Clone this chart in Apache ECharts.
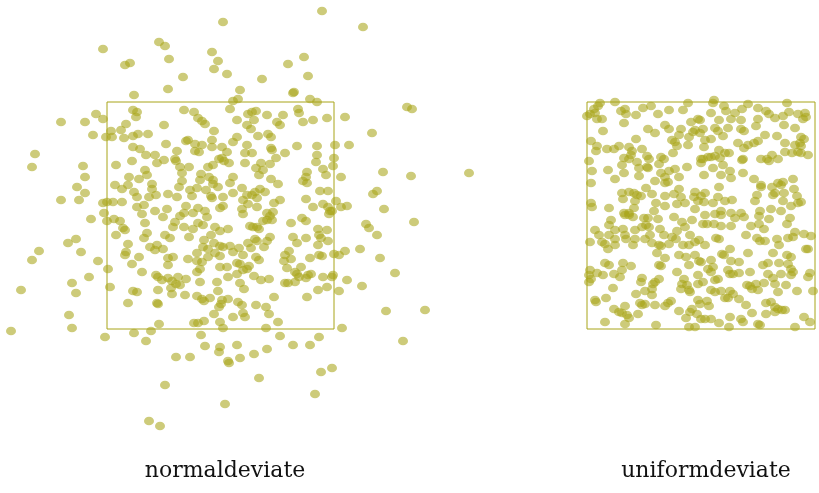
<!DOCTYPE html>
<html>
<head>
<meta charset="utf-8">
<script src="https://cdn.jsdelivr.net/npm/echarts@6/dist/echarts.min.js"></script>
<style>
  html, body { margin: 0; padding: 0; background: #fff; }
  #main { width: 819px; height: 493px; }
</style>
</head>
<body>
<div id="main"></div>
<script>
// panel names
const panelNames = ["normaldeviate", "uniformdeviate"];

// normal deviate sample, box is about -113..113 on both axes
const normalOuter = [
  [-118,167],[-96,151],[-91,153],[-62,174],[-56,170],[-52,157],[-38,139],[-87,121],[-53,127],
  [2,194],[-9,164],[-3,155],[-7,147],[6,142],[19,126],[12,115],[17,117],[41,137],[67,152],
  [83,159],[87,140],[72,123],[73,124],[89,117],[96,114],[101,205],[142,189],
  [-210,-115],[-149,-112],[-116,-121],[-87,-117],[-70,-115],[-75,-125],[-20,-119],[-45,-141],
  [-31,-141],[-16,-130],[-1,-131],[-2,-136],[16,-129],[7,-145],[8,-147],[19,-142],[33,-138],
  [46,-133],[59,-120],[72,-129],[89,-129],[98,-121],[121,-112],[182,-125],[100,-156],[111,-152],
  [38,-162],[-56,-169],[94,-178],[4,-188],[-72,-205],[-61,-210],[45,-112],[2,-112],
  [-125,102],[-118,97],[-160,94],[-136,94],[-128,81],[-115,79],[-186,62],[-189,49],[-138,50],
  [-136,39],[-144,29],[-136,23],[-160,16],[-142,16],[-118,13],[-114,14],[-117,3],[-130,-3],
  [-114,-5],[-145,-23],[-153,-27],[-182,-35],[-189,-44],[-140,-36],[-123,-45],[-113,-53],
  [-132,-61],[-149,-67],[-145,-77],[-200,-74],[-111,-71],[-152,-99],
  [186,109],[191,107],[124,99],[151,83],[114,71],[128,71],[113,58],[112,50],[120,39],[162,44],
  [190,40],[248,43],[156,25],[152,22],[115,15],[120,9],[126,10],[111,5],[163,7],[145,-8],
  [148,-12],[156,-19],[193,-6],[139,-33],[124,-35],[118,-39],[113,-38],[159,-42],[174,-57],
  [112,-59],[126,-64],[141,-70],[118,-75],[165,-95],[204,-94]
];

const normalInner = [
  [-88,106],[-84,104],[-85,99],[-37,106],[-27,104],[-23,98],[-19,95],[-16,92],[-95,92],[-57,91],
  [-110,85],[-100,86],[-88,80],[-83,82],[-73,82],[-97,78],[-109,79],[-7,85],[-33,76],[-35,75],
  [-55,72],[-26,72],[-19,71],[-9,76],[-88,69],[-81,67],[-26,65],[-22,64],[-9,69],[-44,65],
  [-75,61],[-66,61],[-57,56],[-64,53],[-89,55],[-46,57],[-45,55],[-105,51],[-2,57],[-8,51],
  [-13,49],[-41,49],[-32,49],[-76,46],[-74,41],[-39,43],[-20,42],[-21,36],[-12,39],[-8,36],
  [-92,39],[-82,37],[-39,35],[-106,31],[-69,32],[-69,27],[-99,27],[-93,31],[-42,29],[-31,26],
  [-24,28],[-15,26],[-8,32],[-3,29],[-87,24],[-84,19],[-53,22],[-65,21],[-72,19],[-44,19],
  [-29,20],[-10,20],[-9,18],[-108,14],[-99,14],[-77,11],[-84,9],[-66,5],[-54,7],[-35,10],
  [-23,8],[-16,5],[-28,3],[-37,3],[-1,8],
  [9,107],[27,102],[31,104],[35,105],[46,101],[62,101],[77,107],[78,103],[16,96],[33,96],
  [56,94],[59,91],[82,94],[92,96],[106,98],[26,91],[30,87],[37,80],[47,82],[50,79],[16,79],
  [12,74],[26,71],[76,70],[96,70],[1,69],[6,64],[50,68],[51,66],[24,63],[31,63],[64,63],
  [55,58],[96,61],[1,58],[3,55],[24,53],[8,53],[40,53],[49,52],[95,54],[35,48],[42,46],
  [102,47],[38,41],[86,44],[105,41],[12,39],[50,37],[85,39],[82,35],[86,33],[9,33],[57,32],
  [21,28],[12,23],[39,27],[34,24],[31,21],[26,21],[44,24],[99,25],[107,25],[2,19],[22,16],
  [27,12],[36,18],[59,16],[53,13],[85,17],[2,10],[21,7],[36,9],[46,3],[52,4],[92,9],[102,12],
  [107,9],[109,5],
  [-107,-3],[-101,-5],[-79,2],[-76,-7],[-58,-1],[-41,0],[-46,-6],[-48,-11],[-37,-11],[-28,-13],
  [-23,-7],[-18,-9],[-14,-1],[-6,-11],[-1,-15],[-98,-12],[-96,-14],[-105,-19],[-74,-17],
  [-77,-22],[-56,-19],[-51,-22],[-32,-21],[-17,-24],[-10,-19],[-7,-27],[-1,-30],[-93,-28],
  [-71,-31],[-66,-34],[-64,-29],[-58,-33],[-18,-31],[-13,-33],[-95,-36],[-96,-39],[-82,-41],
  [-24,-37],[-6,-37],[-1,-40],[-53,-42],[-48,-41],[-33,-43],[-24,-45],[-19,-46],[-89,-48],
  [-13,-41],[-53,-49],[-21,-53],[-24,-56],[-79,-56],[-1,-51],[-65,-59],[-63,-61],[-53,-62],
  [-49,-65],[-43,-61],[-35,-63],[-45,-68],[-41,-69],[-59,-64],[-21,-66],[-4,-66],[-88,-75],
  [-84,-76],[-63,-74],[-50,-72],[-49,-78],[-36,-79],[-24,-80],[-19,-83],[-17,-85],[-11,-82],
  [-3,-75],[-93,-87],[-64,-87],[-63,-88],[-2,-91],[-7,-98],[-27,-107],[-23,-107],[-17,-105],
  [-62,-108],[-1,-106],
  [29,-10],[32,-11],[36,-11],[38,-13],[42,-5],[46,-4],[51,-4],[49,0],[22,2],[70,-7],[81,-2],
  [85,-5],[108,2],[7,-13],[97,-13],[106,-14],[98,-19],[100,-22],[107,-25],[97,-29],[72,-21],
  [76,-27],[85,-22],[49,-21],[46,-25],[34,-23],[36,-25],[27,-27],[30,-32],[43,-31],[2,-31],
  [9,-30],[18,-32],[12,-36],[22,-39],[35,-41],[38,-44],[64,-39],[68,-35],[70,-43],[63,-45],
  [89,-42],[98,-39],[101,-40],[16,-47],[19,-48],[28,-50],[6,-51],[66,-52],[80,-51],[74,-56],
  [76,-58],[26,-53],[22,-54],[16,-58],[7,-61],[33,-60],[87,-59],[90,-58],[78,-61],[40,-64],
  [48,-63],[102,-61],[111,-61],[19,-67],[64,-67],[67,-67],[74,-66],[23,-73],[85,-62],[97,-74],
  [106,-71],[53,-81],[86,-81],[7,-83],[1,-84],[0,-88],[17,-86],[21,-89],[35,-89],[45,-91],
  [48,-98],[22,-97],[24,-101],[12,-101],[57,-106]
];

// uniform deviate sample, box is 0..228 wide, 0..227 tall
const uniformTop = [
  [13,226],[11,223],[7,220],[8,216],[3,215],[0,213],[15,210],[10,210],[16,198],[28,227],
  [38,220],[34,218],[39,215],[37,206],[49,214],[56,221],[64,223],[71,215],[82,219],[96,219],
  [101,226],[104,207],[111,210],[61,200],[68,196],[78,204],[82,200],[94,200],[92,194],[102,192],
  [106,197],[108,199],[49,190],[85,189],[88,187],[90,183],[101,184],[4,188],[10,183],[9,178],
  [20,180],[27,180],[32,183],[42,182],[45,178],[44,174],[55,180],[37,171],[42,170],[50,167],
  [60,173],[62,170],[74,172],[77,170],[86,176],[2,168],[114,170],[35,164],[52,161],[60,162],
  [61,161],[72,165],[82,158],[88,160],[100,162],[5,158],[21,159],[37,156],[52,153],[74,156],
  [78,152],[92,152],[28,150],[4,146],[59,141],[68,148],[81,147],[78,146],[92,140],[108,137],
  [35,136],[42,137],[47,136],[50,134],[54,133],[65,135],[78,133],[87,135],[94,132],[107,132],
  [111,128],[36,130],[4,126],[48,128],[69,126],[78,123],[90,125],[98,126],[22,121],[47,121],
  [37,116],[42,116],[5,122],[67,118],[108,120],
  [126,226],[127,229],[137,223],[139,218],[148,216],[155,220],[161,225],[171,221],[179,218],
  [182,215],[200,226],[202,217],[196,213],[188,211],[211,215],[218,216],[219,212],[216,210],
  [113,209],[124,216],[132,209],[144,210],[154,209],[171,210],[169,203],[197,204],[208,201],
  [116,200],[113,196],[128,201],[131,198],[141,201],[154,200],[157,198],[136,193],[178,194],
  [190,193],[214,192],[217,190],[118,189],[124,190],[117,182],[151,186],[171,188],[167,186],
  [161,184],[157,181],[198,186],[208,184],[213,186],[214,183],[198,177],[205,176],[211,177],
  [214,176],[221,174],[132,179],[138,176],[142,176],[124,172],[128,173],[133,171],[116,170],
  [121,172],[114,166],[156,170],[155,169],[174,170],[180,170],[182,168],[185,174],[191,170],
  [136,164],[126,161],[143,158],[117,154],[134,154],[144,151],[156,156],[167,150],[174,144],
  [174,142],[185,142],[191,146],[196,147],[194,144],[206,150],[132,142],[170,134],[118,136],
  [188,136],[197,136],[207,140],[210,133],[114,133],[131,132],[138,128],[145,129],[117,127],
  [126,126],[168,128],[186,134],[196,128],[204,123],[211,126],[214,127],[134,118],[144,116],
  [154,116],[173,118],[184,120],[194,118]
];

const uniformBottom = [
  [38,114],[42,114],[46,112],[57,111],[61,111],[71,110],[87,112],[95,107],[105,109],[24,109],
  [22,104],[8,99],[12,94],[28,99],[36,100],[48,99],[55,102],[62,102],[59,104],[73,100],[90,98],
  [98,102],[22,94],[28,90],[38,94],[39,90],[48,90],[58,90],[63,94],[65,86],[77,94],[85,92],
  [89,90],[103,94],[112,89],[15,87],[18,85],[3,87],[28,84],[46,84],[72,84],[74,83],[82,85],
  [96,84],[102,84],[108,87],[21,80],[70,76],[78,71],[92,74],[99,72],[108,74],[18,66],[22,64],
  [36,66],[44,63],[72,64],[74,63],[102,64],[90,57],[112,68],[3,59],[10,56],[2,54],[16,54],
  [27,55],[35,59],[33,52],[55,51],[54,47],[2,47],[4,50],[68,47],[66,45],[72,50],[97,50],[95,45],
  [100,44],[102,39],[103,37],[111,45],[65,40],[58,38],[26,41],[49,35],[65,34],[94,40],[8,29],
  [9,27],[19,31],[53,26],[55,24],[58,25],[68,24],[78,23],[81,26],[84,28],[38,23],[27,20],
  [32,17],[35,16],[40,14],[42,11],[51,15],[92,18],[105,20],[103,17],[99,11],[110,15],[18,7],
  [38,5],[69,4],[102,2],[108,2],
  [118,114],[128,115],[134,114],[148,111],[157,112],[172,113],[182,110],[203,111],[116,105],
  [120,105],[127,105],[134,103],[144,103],[164,103],[172,105],[177,100],[200,105],[159,94],
  [170,91],[173,88],[178,88],[190,90],[192,84],[201,91],[206,92],[208,97],[217,95],[224,93],
  [129,91],[132,90],[118,84],[143,80],[135,75],[137,74],[161,76],[221,80],[219,80],[200,74],
  [204,72],[186,76],[114,67],[124,69],[144,68],[152,67],[176,64],[181,66],[192,66],[201,65],
  [121,60],[126,62],[124,57],[141,59],[163,57],[181,55],[194,55],[204,60],[206,57],[223,56],
  [111,54],[131,50],[143,55],[146,55],[152,56],[186,51],[204,54],[221,52],[116,47],[128,49],
  [160,44],[163,43],[169,45],[177,46],[188,45],[199,44],[124,39],[128,37],[134,38],[143,38],
  [146,35],[165,40],[171,39],[191,37],[210,38],[226,38],[111,29],[113,25],[120,28],[138,31],
  [141,31],[152,30],[159,24],[179,26],[184,27],[188,22],[191,20],[195,19],[122,23],[165,16],
  [179,15],[188,17],[198,19],[114,10],[118,10],[124,10],[143,12],[154,10],[156,7],[171,5],
  [173,4],[132,6],[142,2],[208,2],[217,12],[223,7]
];

const normalData = normalOuter.concat(normalInner);
const uniformData = uniformTop.concat(uniformBottom);

const olive = "#a9a519";
const boxColor = "#a8a418";

const chart = echarts.init(document.getElementById("main"));

const hidden = {
  axisLabel: { show: false },
  axisTick: { show: false },
  axisLine: { show: false },
  splitLine: { show: false },
};

const dotStyle = {
  type: "scatter",
  symbol: "circle",
  symbolSize: [10, 8.5],
  clip: false,
  silent: true,
  itemStyle: { color: olive, opacity: 0.58 },
};

chart.setOption({
  animation: false,
  title: [
    {
      text: panelNames[0],
      left: 220,
      top: 455,
      textAlign: "center",
      textStyle: { fontFamily: "DejaVu Serif", fontWeight: "normal", fontSize: 22, color: "#111" },
    },
    {
      text: panelNames[1],
      left: 701,
      top: 455,
      textAlign: "center",
      textStyle: { fontFamily: "DejaVu Serif", fontWeight: "normal", fontSize: 22, color: "#111" },
    },
  ],
  grid: [
    { left: 107, top: 102, width: 227, height: 227, show: true, borderColor: boxColor, borderWidth: 1 },
    { left: 587, top: 102, width: 228, height: 227, show: true, borderColor: boxColor, borderWidth: 1 },
  ],
  xAxis: [
    { gridIndex: 0, type: "value", min: -114, max: 113, ...hidden },
    { gridIndex: 1, type: "value", min: 0, max: 228, ...hidden },
  ],
  yAxis: [
    { gridIndex: 0, type: "value", min: -113, max: 114, ...hidden },
    { gridIndex: 1, type: "value", min: 0, max: 227, ...hidden },
  ],
  series: [
    { ...dotStyle, xAxisIndex: 0, yAxisIndex: 0, data: normalData },
    { ...dotStyle, xAxisIndex: 1, yAxisIndex: 1, data: uniformData },
  ],
});
</script>
</body>
</html>
